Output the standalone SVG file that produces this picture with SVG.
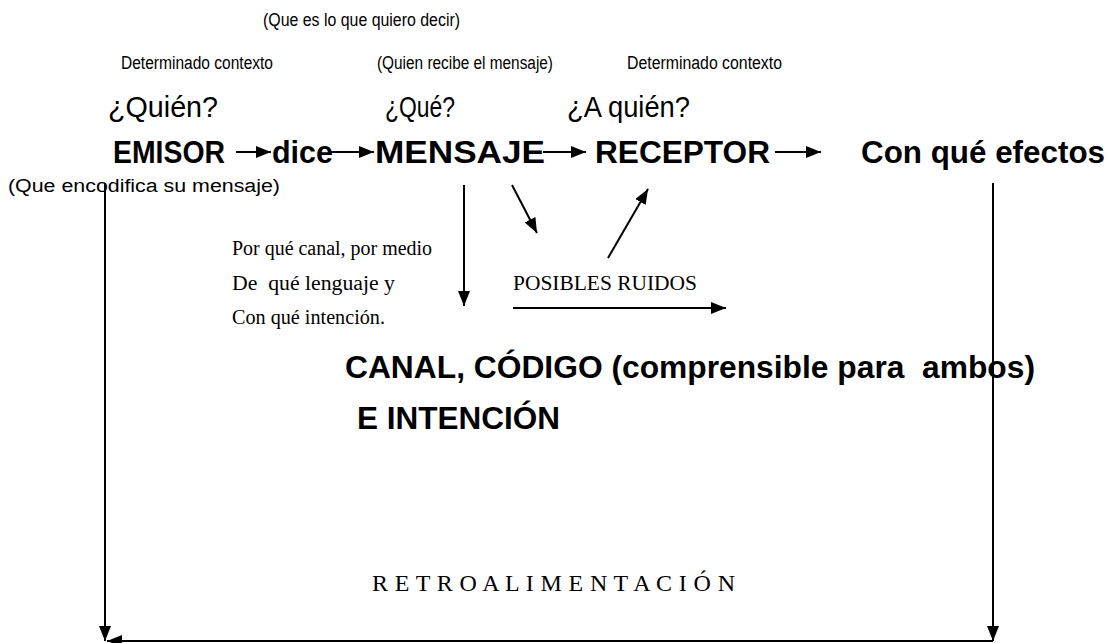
<svg xmlns="http://www.w3.org/2000/svg" width="1111" height="643" viewBox="0 0 1111 643">
<defs>
<style>
.s{font-family:"Liberation Sans",Arial,sans-serif;fill:#000}
.q{font-family:"Liberation Sans",Arial,sans-serif;font-size:29px;fill:#000}
.b{font-family:"Liberation Sans",Arial,sans-serif;font-size:31px;font-weight:bold;fill:#000}
.t{font-family:"Liberation Serif","Times New Roman",serif;font-size:20px;fill:#000}
.ln{stroke:#000;stroke-width:2;fill:none}
</style>
<marker id="ah" viewBox="0 0 15 12" refX="15" refY="6" markerWidth="15" markerHeight="12" markerUnits="userSpaceOnUse" orient="auto">
<path d="M0,0 L15,6 L0,12 Z" fill="#000"/>
</marker>
</defs>
<rect width="1111" height="643" fill="#fff"/>
<g id="labels-top">
<text class="s" x="263" y="26" font-size="18" textLength="197" lengthAdjust="spacingAndGlyphs">(Que es lo que quiero decir)</text>
<text class="s" x="121" y="69" font-size="18" textLength="152" lengthAdjust="spacingAndGlyphs">Determinado contexto</text>
<text class="s" x="377" y="69" font-size="18" textLength="176" lengthAdjust="spacingAndGlyphs">(Quien recibe el mensaje)</text>
<text class="s" x="627" y="69" font-size="18" textLength="155" lengthAdjust="spacingAndGlyphs">Determinado contexto</text>
<text class="q" x="108" y="117" textLength="110" lengthAdjust="spacingAndGlyphs">¿Quién?</text>
<text class="q" x="385" y="117" textLength="70" lengthAdjust="spacingAndGlyphs">¿Qué?</text>
<text class="q" x="567" y="117" textLength="123" lengthAdjust="spacingAndGlyphs">¿A quién?</text>
</g>
<g id="emisor"><text class="b" x="113" y="163" textLength="112" lengthAdjust="spacingAndGlyphs">EMISOR</text></g>
<g id="dice"><text class="b" x="272" y="163" textLength="61" lengthAdjust="spacingAndGlyphs">dice</text></g>
<g id="mensaje"><text class="b" x="375" y="163" textLength="170" lengthAdjust="spacingAndGlyphs">MENSAJE</text></g>
<g id="receptor"><text class="b" x="595" y="163" textLength="175" lengthAdjust="spacingAndGlyphs">RECEPTOR</text></g>
<g id="efectos"><text class="b" x="861" y="163" textLength="244" lengthAdjust="spacingAndGlyphs">Con qué efectos</text></g>
<g id="nota-emisor"><text class="s" x="8" y="192" font-size="18" textLength="272" lengthAdjust="spacingAndGlyphs">(Que encodifica su mensaje)</text></g>
<g id="nota-canal">
<text class="t" x="232" y="255" textLength="200" lengthAdjust="spacingAndGlyphs">Por qué canal, por medio</text>
<text class="t" x="232" y="290" textLength="163" lengthAdjust="spacingAndGlyphs" xml:space="preserve">De  qué lenguaje y</text>
<text class="t" x="232" y="324" textLength="153" lengthAdjust="spacingAndGlyphs">Con qué intención.</text>
</g>
<g id="ruidos"><text class="t" x="513" y="290" textLength="184" lengthAdjust="spacingAndGlyphs">POSIBLES RUIDOS</text></g>
<g id="canal">
<text class="b" x="345" y="378" font-size="30" textLength="690" lengthAdjust="spacingAndGlyphs" xml:space="preserve">CANAL, CÓDIGO (comprensible para  ambos)</text>
<text class="b" x="357" y="429" font-size="30" textLength="203" lengthAdjust="spacingAndGlyphs">E INTENCIÓN</text>
</g>
<g id="retro"><text x="372" y="591" font-family="Liberation Serif,'Times New Roman',serif" font-size="24" textLength="363" lengthAdjust="spacing">R E T R O A L I M E N T A C I Ó N</text></g>
<g id="connectors">
<line class="ln" x1="236" y1="152" x2="271" y2="152" marker-end="url(#ah)"/>
<line class="ln" x1="330" y1="152" x2="374" y2="152" marker-end="url(#ah)"/>
<line class="ln" x1="543" y1="152" x2="586" y2="152" marker-end="url(#ah)"/>
<line class="ln" x1="775" y1="152" x2="821" y2="152" marker-end="url(#ah)"/>
<line class="ln" x1="464" y1="185" x2="464" y2="306" marker-end="url(#ah)"/>
<line class="ln" x1="512" y1="185" x2="537" y2="233" marker-end="url(#ah)"/>
<line class="ln" x1="608" y1="258" x2="648" y2="189" marker-end="url(#ah)"/>
<line class="ln" x1="513" y1="308" x2="726" y2="308" marker-end="url(#ah)"/>
<line class="ln" x1="105" y1="183" x2="105" y2="641" marker-end="url(#ah)"/>
<line class="ln" x1="993" y1="183" x2="993" y2="641" marker-end="url(#ah)"/>
<line class="ln" x1="993" y1="641" x2="107" y2="641" marker-end="url(#ah)"/>
</g>
</svg>
